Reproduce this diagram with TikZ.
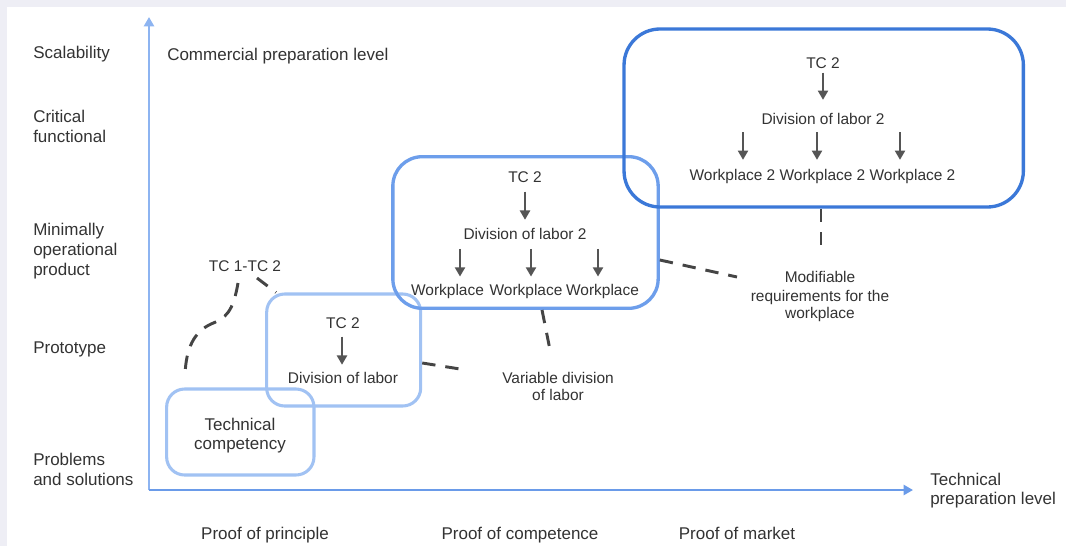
\documentclass[tikz,border=0pt]{standalone}
\usepackage{fontspec}
\setmainfont{Liberation Sans}
\usetikzlibrary{arrows.meta}

\definecolor{pagegrey}{HTML}{EEEEF5}
\definecolor{txt}{HTML}{333333}
\definecolor{axisY}{HTML}{8DB4F1}
\definecolor{axisX}{HTML}{6A9BE9}
\definecolor{paleblue}{HTML}{A1C2F3}
\definecolor{midblue}{HTML}{6D9EEB}
\definecolor{deepblue}{HTML}{3B78D8}
\definecolor{dashgrey}{HTML}{454545}
\definecolor{arrowgrey}{HTML}{555555}

\begin{document}
\begin{tikzpicture}[x=0.75pt,y=-0.75pt,
  big/.style={font=\fontsize{12.75}{15}\selectfont, text=txt, inner sep=0pt, anchor=base},
  small/.style={font=\fontsize{11.6}{14}\selectfont, text=txt, inner sep=0pt, anchor=base},
  stagebox/.style={draw, inner sep=0pt, fill=none},
  flow/.style={arrowgrey, line width=1.9pt, -{Triangle[length=7pt,width=7.5pt]}},
  link/.style={dashgrey, line width=2.2pt, dash pattern=on 10pt off 7.5pt},
  axis/.style={line width=2.2pt, -{Triangle[length=7pt,width=7.5pt]}},
]
% page and panel
\fill[pagegrey] (0,0) rectangle (1066,546);
\fill[white] (7,7) rectangle (1066,546);
\useasboundingbox (0,0) rectangle (1066,546);

% axes
\coordinate (origin) at (149,490);
\coordinate (ytip) at (149,17);
\coordinate (xtip) at (913,490);
\draw[axis, axisY] (origin) -- (ytip);
\draw[axis, axisX] (origin) -- (xtip);

% level labels on the vertical axis
\node[big, anchor=base west] (lvScal) at (33,58) {Scalability};
\node[big, anchor=base west] (lvCrit1) at (33,122) {Critical};
\node[big, anchor=base west] (lvCrit2) at (33,142) {functional};
\node[big, anchor=base west] (lvMin1) at (33,235) {Minimally};
\node[big, anchor=base west] (lvMin2) at (33,255) {operational};
\node[big, anchor=base west] (lvMin3) at (33,275) {product};
\node[big, anchor=base west] (lvProto) at (33,353) {Prototype};
\node[big, anchor=base west] (lvProb1) at (33,465) {Problems};
\node[big, anchor=base west] (lvProb2) at (33,485) {and solutions};

% axis titles
\node[big, anchor=base west] (yTitle) at (167,60) {Commercial preparation level};
\node[big, anchor=base west] (xTitle1) at (930,485) {Technical};
\node[big, anchor=base west] (xTitle2) at (930,504) {preparation level};

% proof stages under the horizontal axis
\node[big] (proofP) at (265,539) {Proof of principle};
\node[big] (proofC) at (520,539) {Proof of competence};
\node[big] (proofM) at (737,539) {Proof of market};

% stage boxes
\node[stagebox, draw=paleblue, line width=2.3pt, rounded corners=13.5pt,
      minimum width=110.5pt, minimum height=64.5pt] (boxA) at (240.3,432) {};
\node[stagebox, draw=paleblue, line width=2.3pt, rounded corners=13.5pt,
      minimum width=115.5pt, minimum height=84pt] (boxB) at (343.7,350) {};
\node[stagebox, draw=midblue, line width=2.5pt, rounded corners=22pt,
      minimum width=199pt, minimum height=113.7pt] (boxC) at (525.5,232.5) {};
\node[stagebox, draw=deepblue, line width=2.5pt, rounded corners=27pt,
      minimum width=299.5pt, minimum height=133.5pt] (boxD) at (823.7,118) {};

% box A
\node[big] (aTech) at (240,430) {Technical};
\node[big] (aComp) at (240,449) {competency};

% box B
\node[small] (bTc) at (343,328) {TC 2};
\node[small] (bDiv) at (343,383.3) {Division of labor};
\draw[flow, shorten <=6.5pt, shorten >=5.3pt] (bTc.base -| 342,0) -- (bDiv.north -| 342,0);

% box C
\node[small] (cTc) at (525,182.7) {TC 2};
\node[small] (cDiv) at (525,239) {Division of labor 2};
\node[small] (cWp1) at (447.5,295) {Workplace};
\node[small] (cWp2) at (526,295) {Workplace};
\node[small] (cWp3) at (602.5,295) {Workplace};
\draw[flow, shorten <=6.7pt, shorten >=5.8pt] (cTc.base) -- (cDiv.north -| cTc.base);
\draw[flow, shorten <=7pt, shorten >=5.2pt] (cDiv.south -| 460,0) -- (cWp1.north -| 460,0);
\draw[flow, shorten <=7pt, shorten >=5.2pt] (cDiv.south -| 531,0) -- (cWp2.north -| 531,0);
\draw[flow, shorten <=7pt, shorten >=5.2pt] (cDiv.south -| 598,0) -- (cWp3.north -| 598,0);

% box D
\node[small] (dTc) at (823,68.3) {TC 2};
\node[small] (dDiv) at (823,124) {Division of labor 2};
\node[small] (dWp1) at (732.5,180) {Workplace 2};
\node[small] (dWp2) at (822.5,180) {Workplace 2};
\node[small] (dWp3) at (912.5,180) {Workplace 2};
\draw[flow, shorten <=3.3pt, shorten >=9.5pt] (dTc.base) -- (dDiv.north -| dTc.base);
\draw[flow, shorten <=5.8pt, shorten >=6.5pt] (dDiv.south -| 743,0) -- (dWp1.north -| 743,0);
\draw[flow, shorten <=5.8pt, shorten >=6.5pt] (dDiv.south -| 817,0) -- (dWp2.north -| 817,0);
\draw[flow, shorten <=5.8pt, shorten >=6.5pt] (dDiv.south -| 900,0) -- (dWp3.north -| 900,0);

% annotations
\node[small] (tc12) at (245,271.7) {TC 1-TC 2};
\node[small] (varDiv1) at (558,383.3) {Variable division};
\node[small] (varDiv2) at (558,400) {of labor};
\node[small] (modReq1) at (820,282.7) {Modifiable};
\node[small] (modReq2) at (820,301) {requirements for the};
\node[small] (modReq3) at (820,318.3) {workplace};

% dashed links
\coordinate (tcCurveTop) at (238,283);
\coordinate (tcCurveEnd) at (185,375);
\coordinate (tcDashTop) at (257,278);
\coordinate (varLeft) at (460,369);
\coordinate (varTop) at (550,350);
\coordinate (modLeft) at (737,277);
\coordinate (modTop) at (821,247);
\draw[link] (tcCurveTop) .. controls (233,312) and (226,318) .. (211,324)
            .. controls (194,332) and (186,348) .. (tcCurveEnd);
\draw[link] (tcDashTop) -- (boxB.north -| 276,0);
\draw[link] (boxB.east |- 0,363) -- (varLeft);
\draw[link] (boxC.south -| 542,0) -- (varTop);
\draw[link] (boxC.east |- 0,260) -- (modLeft);
\draw[link] (boxD.south -| 821,0) -- (modTop);
\end{tikzpicture}
\end{document}
